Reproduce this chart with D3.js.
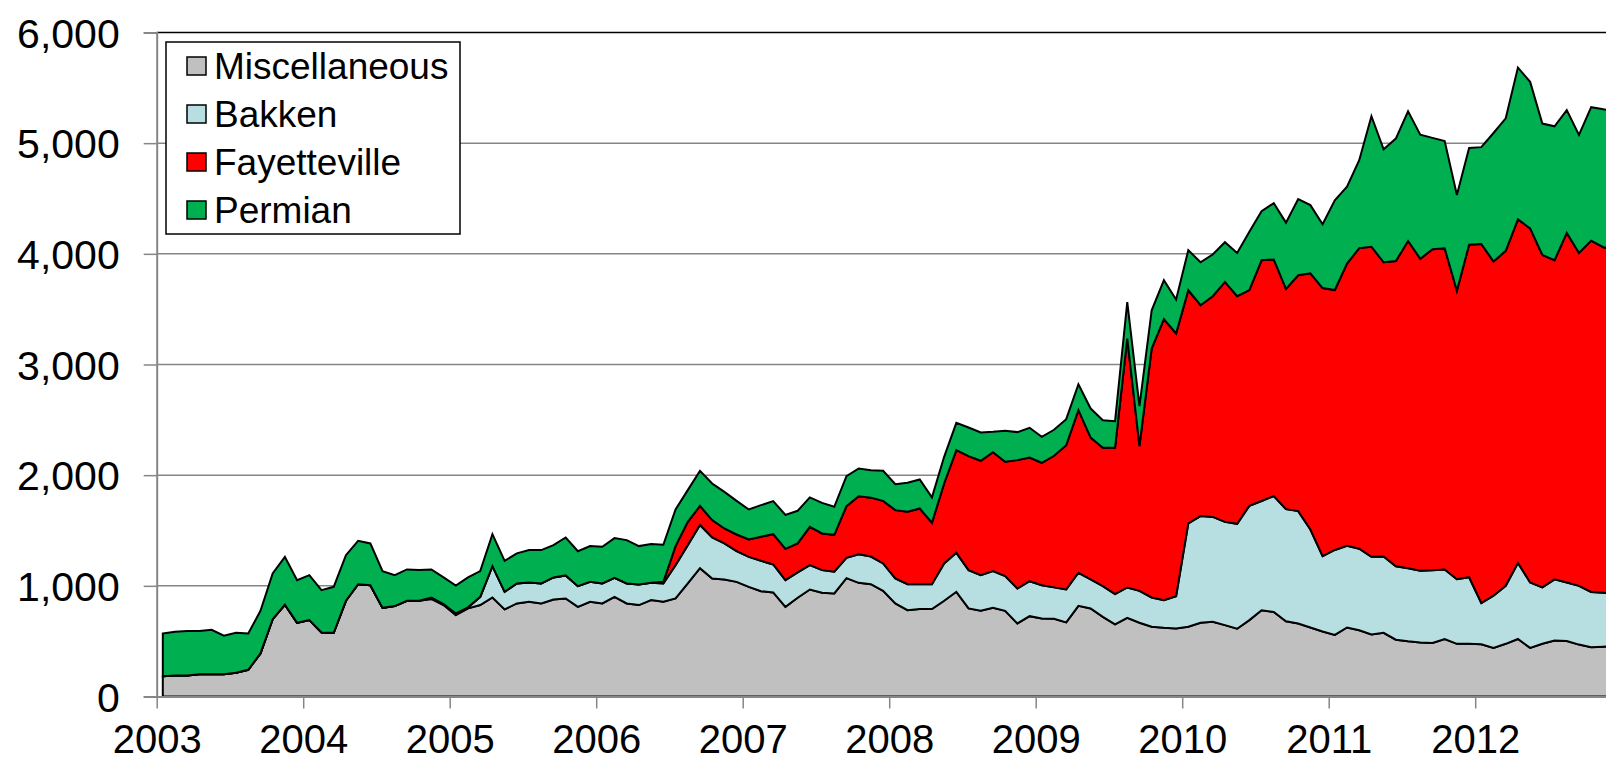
<!DOCTYPE html>
<html>
<head>
<meta charset="utf-8">
<script src="https://cdn.jsdelivr.net/npm/d3@7"></script>
<style>
  html, body { margin: 0; padding: 0; background: #fff; }
  svg { display: block; }
  text { font-family: "Liberation Sans", Arial, sans-serif; fill: #000; }
</style>
</head>
<body>
<svg id="chart" width="1606" height="764"></svg>
<script>
// ---- Data (monthly, Jan 2003 - Dec 2012) ----
const seriesNames = ["Miscellaneous", "Bakken", "Fayetteville", "Permian"];
const seriesColors = ["#C0C0C0", "#B7DEE1", "#FF0000", "#00B050"];
const yearLabels = ["2003","2004","2005","2006","2007","2008","2009","2010","2011","2012"];
const yTicks = [0, 1000, 2000, 3000, 4000, 5000, 6000];

const misc = [184,190,190,200,200,200,214,241,389,699,829,666,
  690,579,576,865,1015,1006,801,817,865,865,882,826,
  735,796,826,895,787,841,856,841,877,886,810,856,
  841,901,841,826,871,856,886,1022,1160,1067,1058,1036,
  991,952,940,810,892,967,937,931,1070,1027,1015,955,
  841,780,790,790,865,946,796,774,801,774,660,726,
  705,702,669,819,796,720,651,711,666,630,621,615,
  630,666,675,645,612,690,779,764,679,660,624,587,
  557,624,598,561,575,513,499,488,484,520,476,476,
  472,439,476,520,439,476,506,502,469,446,450,455];

const bakken = [0,0,0,0,0,0,0,0,0,0,0,0,
  0,0,0,0,0,0,0,0,0,0,12,10,
  15,10,75,283,159,181,175,181,199,208,187,180,
  181,171,181,187,156,166,301,346,390,370,325,277,
  271,274,253,241,229,220,205,196,183,259,250,247,
  226,235,225,225,337,352,346,323,332,314,316,316,
  301,284,298,299,262,277,274,274,289,265,250,292,
  934,964,948,933,948,1033,988,1047,1014,1015,885,682,
  767,737,737,701,691,664,659,649,656,627,583,602,
  373,472,524,686,591,510,553,528,531,499,487,475];

const fayetteville = [0,0,0,0,0,0,0,0,0,0,0,0,
  0,0,0,0,0,0,0,0,0,0,0,0,
  0,0,0,0,0,0,0,0,0,0,0,0,
  0,0,0,0,0,14,172,210,172,157,135,151,
  157,217,274,283,262,346,331,334,467,524,532,566,
  617,654,684,555,723,928,1030,1033,1075,1033,1160,1118,
  1106,1189,1304,1469,1282,1250,1322,2250,1307,2249,2538,2373,
  2107,1906,1994,2168,2057,1950,2175,2138,1991,2131,2315,2422,
  2349,2551,2717,2802,2658,2758,2958,2819,2901,2902,2607,3004,
  3244,3020,3027,3105,3200,3004,2883,3159,3008,3174,3123,3100];

const permian = [386,395,401,391,403,349,362,329,385,413,433,385,
  407,382,415,412,392,377,332,280,283,277,254,240,
  253,270,232,289,280,271,292,301,292,343,316,323,
  331,359,391,346,350,335,331,287,317,331,331,304,
  271,286,298,307,295,266,277,253,271,250,248,271,
  235,262,262,229,241,247,259,256,184,280,253,268,
  235,235,235,235,262,250,241,328,361,346,352,307,
  362,388,377,359,391,527,443,509,598,689,616,576,
  811,694,794,1180,1021,1106,1172,1120,1007,970,866,874,
  875,1161,1198,1372,1324,1187,1210,1110,1066,1206,1246,1260];

// ---- Build table ----
const valuesBySeries = [misc, bakken, fayetteville, permian];
const table = misc.map((_, i) => {
  const row = { m: i };
  seriesNames.forEach((k, j) => row[k] = valuesBySeries[j][i]);
  return row;
});

// ---- Layout ----
const svg = d3.select("#chart");
const W = 1606, H = 764;
const x0 = 156.7, monthW = 146.5 / 12;
const yTop = 32.5, yBot = 696.5;

const x = d3.scaleLinear().domain([0, 120]).range([x0, x0 + 120 * monthW]);
const y = d3.scaleLinear().domain([0, 6000]).range([yBot, yTop]);

svg.append("rect").attr("width", W).attr("height", H).attr("fill", "#fff");

// gridlines
svg.append("g").selectAll("line").data(yTicks.filter(v => v > 0 && v < 6000)).join("line")
  .attr("x1", x0).attr("x2", W).attr("y1", d => y(d)).attr("y2", d => y(d))
  .attr("stroke", "#868686").attr("stroke-width", 1.5);

// top border of plot area
svg.append("line").attr("x1", x0).attr("x2", W).attr("y1", y(6000)).attr("y2", y(6000))
  .attr("stroke", "#000").attr("stroke-width", 1.5);

// stacked areas
const stack = d3.stack().keys(seriesNames);
const stacked = stack(table);
const area = d3.area()
  .x(d => x(d.data.m + 0.5))
  .y0(d => y(d[0]))
  .y1(d => y(d[1]));

svg.append("defs").append("clipPath").attr("id", "clip")
  .append("rect").attr("x", 0).attr("y", 0).attr("width", W).attr("height", yBot + 1);

svg.append("g").attr("clip-path", "url(#clip)")
  .selectAll("path").data(stacked).join("path")
  .attr("d", area)
  .attr("fill", (d, i) => seriesColors[i])
  .attr("stroke", "#000")
  .attr("stroke-width", 2)
  .attr("stroke-linejoin", "miter");

// Y axis
const yAxis = d3.axisLeft(y).tickValues(yTicks).tickFormat(d3.format(",")).tickSize(13).tickPadding(24);
const gy = svg.append("g").attr("transform", `translate(${x0},0)`).call(yAxis);
gy.select(".domain").attr("stroke", "#868686").attr("stroke-width", 2);
gy.selectAll(".tick line").attr("stroke", "#868686").attr("stroke-width", 1.5);
gy.selectAll(".tick text").attr("font-size", 41).attr("font-family", "Liberation Sans, Arial, sans-serif")
  .attr("fill", "#000").attr("dy", "0.36em");

// X axis
const xTickVals = yearLabels.map((_, i) => i * 12);
const xAxis = d3.axisBottom(x).tickValues(xTickVals).tickFormat((d, i) => yearLabels[i]).tickSize(12).tickSizeOuter(0).tickPadding(8);
const gx = svg.append("g").attr("transform", `translate(0,${yBot})`).call(xAxis);
gx.select(".domain").attr("stroke", "#868686").attr("stroke-width", 2);
gx.selectAll(".tick line").attr("stroke", "#868686").attr("stroke-width", 1.5);
gx.selectAll(".tick text").attr("font-size", 40).attr("font-family", "Liberation Sans, Arial, sans-serif")
  .attr("fill", "#000").attr("dy", "0.9em");

// Legend
const lg = svg.append("g");
lg.append("rect").attr("x", 166).attr("y", 42).attr("width", 294).attr("height", 192)
  .attr("fill", "#fff").attr("stroke", "#000").attr("stroke-width", 1.5);
const legendRows = lg.selectAll("g.row").data(seriesNames).join("g").attr("class", "row")
  .attr("transform", (d, i) => `translate(0,${66 + i * 48})`);
legendRows.append("rect").attr("x", 187).attr("y", -9).attr("width", 19).attr("height", 18)
  .attr("fill", (d, i) => seriesColors[i]).attr("stroke", "#000").attr("stroke-width", 1.5);
legendRows.append("text").attr("x", 214).attr("y", 0).attr("dy", "0.36em")
  .attr("font-size", 37).text(d => d);
</script>
</body>
</html>
